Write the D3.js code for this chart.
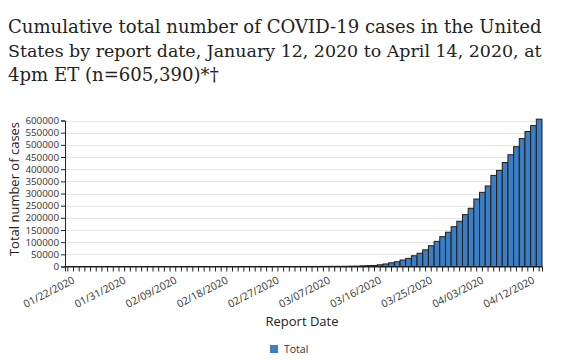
<!DOCTYPE html>
<html><head><meta charset="utf-8">
<script src="https://cdn.jsdelivr.net/npm/d3@7"></script>
<style>
html,body{margin:0;padding:0;background:#fff;}
svg{display:block;}
</style></head>
<body>
<svg id="chart" width="561" height="360"></svg>
<script>
const titleLines = [
  "Cumulative total number of COVID-19 cases in the United",
  "States by report date, January 12, 2020 to April 14, 2020, at",
  "4pm ET (n=605,390)*\u2020"
];
const startDate = "2020-01-22";
const totals = [
  1, 1, 2, 2, 5, 5, 5, 5, 5, 6,
  7, 8, 11, 11, 11, 12, 12, 12, 12, 12,
  13, 13, 14, 14, 14, 14, 14, 15, 15, 15,
  15, 35, 35, 35, 53, 57, 60, 60, 64, 70,
  88, 99, 129, 164, 213, 402, 518, 647, 696, 938,
  1215, 1629, 2726, 3487, 4226, 7038, 10442, 15219, 19624, 26747,
  33404, 44183, 54453, 68440, 85356, 103321, 122653, 140904, 163539, 186101,
  213144, 239279, 277205, 304826, 330891, 374329, 395011, 427460, 459165, 492416,
  525704, 554849, 579005, 605390
];
const yTicks = [0,50000,100000,150000,200000,250000,300000,350000,400000,450000,500000,550000,600000];
const labelEvery = 9;
const seriesName = "Total";
const xTitle = "Report Date";
const yTitle = "Total number of cases";

const parse = d3.timeParse("%Y-%m-%d");
const fmt = d3.timeFormat("%m/%d/%Y");
const d0 = parse(startDate);
const dates = totals.map((v,i)=>fmt(d3.timeDay.offset(d0,i)));
const data = totals.map((v,i)=>({date:dates[i], value:v}));

const svg = d3.select("#chart");
const margin = {left:65, right:19, top:120.5, bottom:93.5};
const W = 561, H = 360;

// title
const title = svg.append("g");
const tfont = "'DejaVu Serif', serif";
const fitW = [534, 534, null];
let baseSize = 19;
titleLines.forEach((t,i)=>{
  const el = title.append("text").attr("x",8).attr("y",33+i*24)
    .attr("font-family",tfont).attr("font-size",baseSize).attr("fill","#222").text(t);
  if (fitW[i]) {
    const w = el.node().getComputedTextLength();
    el.attr("font-size", Math.min(22, baseSize*fitW[i]/w));
  } else {
    el.attr("font-size", +title.select("text").attr("font-size"));
  }
});

const x = d3.scaleBand().domain(dates).range([margin.left, W-margin.right]).paddingInner(0).paddingOuter(0);
const y = d3.scaleLinear().domain([0,600000]).range([H-margin.bottom, margin.top]);

// gridlines
svg.append("g").selectAll("line").data(yTicks.slice(1)).join("line")
  .attr("x1",margin.left).attr("x2",W-margin.right)
  .attr("y1",d=>Math.round(y(d))+0.5).attr("y2",d=>Math.round(y(d))+0.5)
  .attr("stroke","#e6e6e6").attr("stroke-width",1);

// bars
svg.append("g").selectAll("rect").data(data).join("rect")
  .attr("x",d=>x(d.date)).attr("width",x.bandwidth())
  .attr("y",d=>y(d.value)).attr("height",d=>y(0)-y(d.value))
  .attr("fill","#3b7ec4").attr("stroke","#1c1c1c").attr("stroke-width",1);

// y axis
const yAxis = svg.append("g").attr("transform",`translate(${margin.left},0)`)
  .call(d3.axisLeft(y).tickValues(yTicks).tickFormat(d3.format("d")).tickSize(4).tickPadding(2));
yAxis.select(".domain").attr("stroke","#222");
yAxis.selectAll(".tick line").attr("stroke","#222");
yAxis.selectAll("text").attr("font-family","'Open Sans', sans-serif").attr("font-size",9.8).attr("fill","#333");

// x axis
const xAxis = svg.append("g").attr("transform",`translate(0,${y(0)})`)
  .call(d3.axisBottom(x).tickSize(5).tickFormat((d,i)=> i%labelEvery===0 ? d : ""));
xAxis.select(".domain").attr("stroke","#222");
xAxis.selectAll(".tick line").attr("stroke","#222");
xAxis.selectAll("text")
  .attr("font-family","'Open Sans', sans-serif").attr("font-size",10.5).attr("fill","#333")
  .attr("text-anchor","end").attr("dy",0).attr("dx",0)
  .attr("transform","translate(4,9) rotate(-27)");

// axis titles
svg.append("text").attr("x",302).attr("y",326).attr("text-anchor","middle")
  .attr("font-family","'Open Sans', sans-serif").attr("font-size",13).attr("fill","#222").text(xTitle);
svg.append("text").attr("transform","translate(19,189) rotate(-90)").attr("text-anchor","middle")
  .attr("font-family","'Open Sans', sans-serif").attr("font-size",13).attr("fill","#222").text(yTitle);

// legend
const lg = svg.append("g").attr("transform","translate(270,345)");
lg.append("rect").attr("width",8).attr("height",8).attr("fill","#3b7ec4");
lg.append("text").attr("x",14).attr("y",8).attr("font-family","'Open Sans', sans-serif")
  .attr("font-size",10.5).attr("fill","#333").text(seriesName);
</script>
</body></html>
